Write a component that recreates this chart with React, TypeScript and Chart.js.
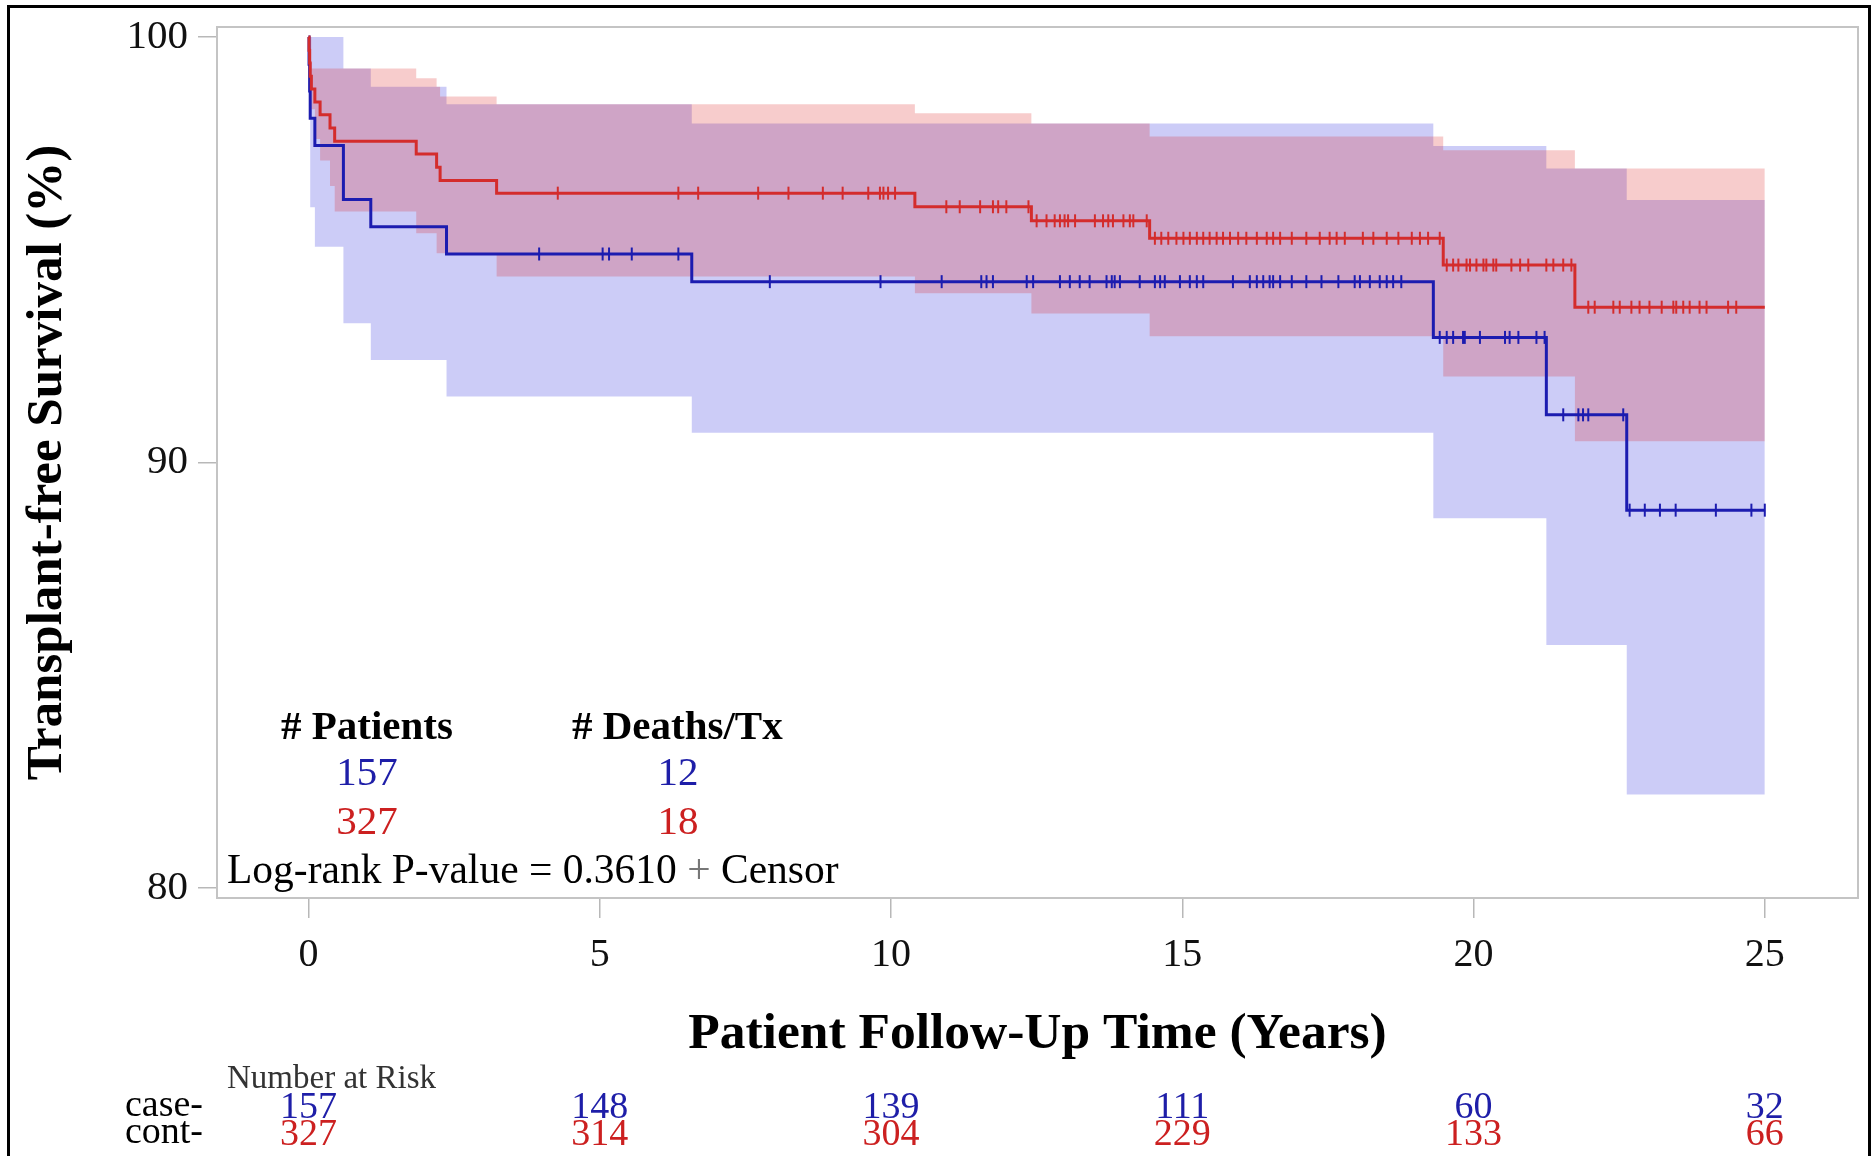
import React, { useEffect, useRef } from 'react';
import { Chart, registerables } from 'chart.js';

Chart.register(...registerables);

const FONT = '"Liberation Serif", "Times New Roman", serif';

// Kaplan-Meier estimates (years, % transplant-free survival)
const caseTimes = [0, 0.01, 0.02, 0.03, 0.11, 0.6, 1.07, 2.37, 6.58, 19.31, 21.25, 22.63, 25];
const caseSurv = [100, 99.36, 98.73, 98.09, 97.45, 96.18, 95.54, 94.9, 94.25, 92.94, 91.12, 88.88, 88.88];

const contTimes = [0, 0.01, 0.02, 0.03, 0.05, 0.11, 0.2, 0.37, 0.45, 1.85, 2.2, 2.26, 3.23, 10.41, 12.41, 14.44, 19.48, 21.74, 25];
const contSurv = [100, 99.69, 99.39, 99.08, 98.78, 98.47, 98.17, 97.86, 97.55, 97.25, 96.94, 96.63, 96.33, 96.01, 95.68, 95.27, 94.64, 93.65, 93.65];

// Confidence bands
const caseCiTimes = [0, 0.01, 0.03, 0.11, 0.6, 1.07, 2.37, 6.58, 19.31, 21.25, 22.63, 25];
const caseCiUpper = [100, 100, 100, 100, 99.26, 98.83, 98.42, 97.97, 97.44, 96.91, 96.17, 96.17];
const caseCiLower = [100, 98.5, 96.0, 95.07, 93.27, 92.41, 91.55, 90.7, 88.69, 85.71, 82.2, 82.2];

const contCiTimes = [0, 0.01, 0.05, 0.11, 0.2, 0.37, 0.45, 1.85, 2.2, 2.26, 3.23, 10.41, 12.41, 14.44, 19.48, 21.74, 25];
const contCiUpper = [100, 100, 99.26, 99.26, 99.26, 99.26, 99.26, 99.03, 98.83, 98.6, 98.42, 98.21, 97.97, 97.66, 97.34, 96.91, 96.91];
const contCiLower = [100, 99.1, 98.3, 97.6, 97.1, 96.5, 95.9, 95.39, 94.92, 94.92, 94.37, 93.98, 93.5, 92.97, 92.02, 90.5, 90.5];

// Censoring times
const caseCensor = [3.96, 5.05, 5.16, 5.55, 6.35, 7.92, 9.82, 10.87, 11.55, 11.64, 11.75, 12.33, 12.44, 12.9, 13.07, 13.24, 13.41, 13.7, 13.79, 13.84, 13.93, 14.27, 14.53, 14.62, 14.7, 14.96, 15.13, 15.25, 15.36, 15.87, 16.16, 16.28, 16.39, 16.5, 16.56, 16.68, 16.88, 17.13, 17.39, 17.68, 17.96, 18.05, 18.22, 18.39, 18.51, 18.62, 18.76, 19.42, 19.54, 19.65, 19.82, 19.85, 20.11, 20.54, 20.62, 20.77, 21.08, 21.22, 21.54, 21.8, 21.88, 21.97, 22.57, 22.68, 22.94, 23.2, 23.47, 24.16, 24.77, 25.0];
const contCensor = [4.28, 6.35, 6.69, 7.72, 8.24, 8.83, 9.17, 9.61, 9.81, 9.87, 9.95, 10.07, 10.95, 11.18, 11.53, 11.75, 11.84, 11.98, 12.36, 12.5, 12.67, 12.81, 12.9, 12.98, 13.04, 13.16, 13.5, 13.64, 13.73, 13.81, 13.99, 14.1, 14.16, 14.39, 14.53, 14.64, 14.76, 14.9, 15.02, 15.13, 15.25, 15.36, 15.47, 15.59, 15.7, 15.82, 15.96, 16.1, 16.28, 16.45, 16.56, 16.68, 16.88, 17.13, 17.36, 17.53, 17.65, 17.79, 18.1, 18.28, 18.51, 18.71, 18.94, 19.08, 19.22, 19.42, 19.54, 19.65, 19.74, 19.88, 19.94, 20.05, 20.17, 20.22, 20.34, 20.39, 20.65, 20.8, 20.94, 21.25, 21.37, 21.54, 21.68, 21.97, 22.08, 22.4, 22.51, 22.71, 22.85, 23.02, 23.23, 23.43, 23.48, 23.6, 23.71, 23.88, 24.0, 24.37, 24.51];

// Axis ticks
const xTicks = [0, 5, 10, 15, 20, 25];
const yTicks = [80, 90, 100];

// Number at risk
const riskTimes = [0, 5, 10, 15, 20, 25];
const caseRisk = [157, 148, 139, 111, 60, 32];
const contRisk = [327, 314, 304, 229, 133, 66];

// Summary table
const groupPatients = [157, 327];
const groupDeaths = [12, 18];
const pValueText = '0.3610';

const BLUE = '#1c1cb0';
const RED = '#d42c2c';
const BLUE_TXT = '#1e1ea8';
const RED_TXT = '#cc2020';

function survAt(times: number[], surv: number[], t: number) {
  let v = surv[0];
  for (let i = 0; i < times.length; i++) if (times[i] <= t) v = surv[i];
  return v;
}
const toXY = (xs: number[], ys: number[]) => xs.map((x, i) => ({ x, y: ys[i] }));

export default function App() {
  const ref = useRef<HTMLCanvasElement | null>(null);

  useEffect(() => {
    const canvas = ref.current;
    if (!canvas) return;

    const overlay = {
      id: 'overlayText',
      beforeDatasetsDraw(chart: any) {
        const { ctx, chartArea } = chart;
        ctx.save();
        ctx.strokeStyle = '#c4c4c4';
        ctx.lineWidth = 2;
        ctx.strokeRect(chartArea.left, chartArea.top, chartArea.right - chartArea.left, chartArea.bottom - chartArea.top);
        ctx.restore();
      },
      afterDraw(chart: any) {
        const { ctx } = chart;
        const xs = chart.scales.x;
        ctx.save();
        // outer frame
        ctx.strokeStyle = '#000';
        ctx.lineWidth = 3;
        ctx.strokeRect(8.5, 6.5, 1861, 1170);

        ctx.fillStyle = '#000';
        // y title
        ctx.save();
        ctx.translate(61, 462.5);
        ctx.rotate(-Math.PI / 2);
        ctx.textAlign = 'center';
        ctx.textBaseline = 'alphabetic';
        ctx.font = `bold 51px ${FONT}`;
        ctx.fillText('Transplant-free Survival (%)', 0, 0);
        ctx.restore();

        // x title
        ctx.textAlign = 'center';
        ctx.textBaseline = 'alphabetic';
        ctx.font = `bold 51.5px ${FONT}`;
        ctx.fillText('Patient Follow-Up Time (Years)', 1037.5, 1048);

        // summary table
        ctx.textAlign = 'left';
        ctx.font = `bold 41px ${FONT}`;
        ctx.fillText('# Patients', 281, 739);
        ctx.fillText('# Deaths/Tx', 572, 739);
        ctx.textAlign = 'center';
        ctx.font = `41px ${FONT}`;
        ctx.fillStyle = BLUE_TXT;
        ctx.fillText(String(groupPatients[0]), 367, 785);
        ctx.fillText(String(groupDeaths[0]), 678, 785);
        ctx.fillStyle = RED_TXT;
        ctx.fillText(String(groupPatients[1]), 367, 834);
        ctx.fillText(String(groupDeaths[1]), 678, 834);

        ctx.textAlign = 'left';
        ctx.fillStyle = '#000';
        ctx.font = `41.5px ${FONT}`;
        const s1 = `Log-rank P-value = ${pValueText} `;
        ctx.fillText(s1, 227, 883);
        let px = 227 + ctx.measureText(s1).width;
        ctx.fillStyle = '#777';
        ctx.fillText('+', px, 883);
        px += ctx.measureText('+').width;
        ctx.fillStyle = '#000';
        ctx.fillText(' Censor', px, 883);

        // number at risk
        ctx.font = `33px ${FONT}`;
        ctx.fillStyle = '#333';
        ctx.fillText('Number at Risk', 227, 1088);
        ctx.font = `38px ${FONT}`;
        ctx.fillStyle = '#000';
        ctx.textAlign = 'right';
        ctx.fillText('case-', 203, 1116);
        ctx.fillText('cont-', 203, 1143);
        ctx.textAlign = 'center';
        riskTimes.forEach((t, i) => {
          const x = xs.getPixelForValue(t);
          ctx.fillStyle = BLUE_TXT;
          ctx.fillText(String(caseRisk[i]), x, 1118);
          ctx.fillStyle = RED_TXT;
          ctx.fillText(String(contRisk[i]), x, 1145);
        });
        ctx.restore();
      },
    };

    const clear = 'rgba(0,0,0,0)';
    const band = (data: any, color: string, fill: any, order: number) => ({
      data,
      stepped: 'before',
      borderColor: clear,
      borderWidth: 1,
      pointRadius: 0,
      backgroundColor: color,
      fill,
      order,
    });
    const censorSet = (data: any, color: string, order: number) => ({
      data,
      showLine: false,
      pointStyle: 'line',
      pointRotation: 90,
      pointRadius: 6.5,
      pointBorderWidth: 2,
      pointBorderColor: color,
      borderColor: color,
      fill: false,
      order,
    });

    const chart = new Chart(canvas, {
      type: 'line',
      data: {
        datasets: [
          band(toXY(caseCiTimes, caseCiUpper), 'rgba(0,0,215,0.2)', '+1', 11),
          band(toXY(caseCiTimes, caseCiLower), clear, false, 12),
          band(toXY(contCiTimes, contCiUpper), 'rgba(215,0,0,0.2)', '+1', 9),
          band(toXY(contCiTimes, contCiLower), clear, false, 10),
          {
            data: toXY(caseTimes, caseSurv),
            stepped: 'before',
            borderColor: BLUE,
            borderWidth: 3,
            pointRadius: 0,
            fill: false,
            order: 4,
          },
          {
            data: toXY(contTimes, contSurv),
            stepped: 'before',
            borderColor: RED,
            borderWidth: 3,
            pointRadius: 0,
            fill: false,
            order: 3,
          },
          censorSet(caseCensor.map((t) => ({ x: t, y: survAt(caseTimes, caseSurv, t) })), BLUE, 2),
          censorSet(contCensor.map((t) => ({ x: t, y: survAt(contTimes, contSurv, t) })), RED, 1),
        ] as any,
      },
      options: {
        animation: false,
        responsive: false,
        devicePixelRatio: 1,
        layout: { padding: { top: 27, right: 17, left: 0, bottom: 0 } },
        plugins: { legend: { display: false }, tooltip: { enabled: false } },
        scales: {
          x: {
            type: 'linear',
            min: -1.57,
            max: 26.6,
            afterBuildTicks: (s: any) => {
              s.ticks = xTicks.map((v) => ({ value: v }));
            },
            afterFit: (s: any) => {
              s.height = 258;
              s.paddingLeft = 0;
              s.paddingRight = 0;
            },
            ticks: {
              autoSkip: false,
              maxRotation: 0,
              padding: 13,
              color: '#111',
              font: { family: FONT, size: 40 },
              callback: (v: any) => String(v),
            },
            grid: { drawOnChartArea: false, drawTicks: true, tickLength: 20, color: '#b8b8b8', lineWidth: 1.5 },
            border: { display: false },
          },
          y: {
            type: 'linear',
            min: 79.765,
            max: 100.235,
            afterBuildTicks: (s: any) => {
              s.ticks = yTicks.map((v) => ({ value: v }));
            },
            afterFit: (s: any) => {
              s.width = 217;
              s.paddingTop = 0;
              s.paddingBottom = 0;
            },
            ticks: {
              padding: 10,
              color: '#111',
              font: { family: FONT, size: 41 },
              callback: (v: any) => String(v),
            },
            grid: { drawOnChartArea: false, drawTicks: true, tickLength: 19, color: '#b8b8b8', lineWidth: 1.5 },
            border: { display: false },
          },
        },
      } as any,
      plugins: [overlay],
    });

    return () => chart.destroy();
  }, []);

  return (
    <div style={{ position: 'fixed', left: 0, top: 0, width: 1875, height: 1156, overflow: 'hidden', background: '#fff' }}>
      <canvas ref={ref} width={1875} height={1156} style={{ display: 'block', width: 1875, height: 1156 }} />
    </div>
  );
}
